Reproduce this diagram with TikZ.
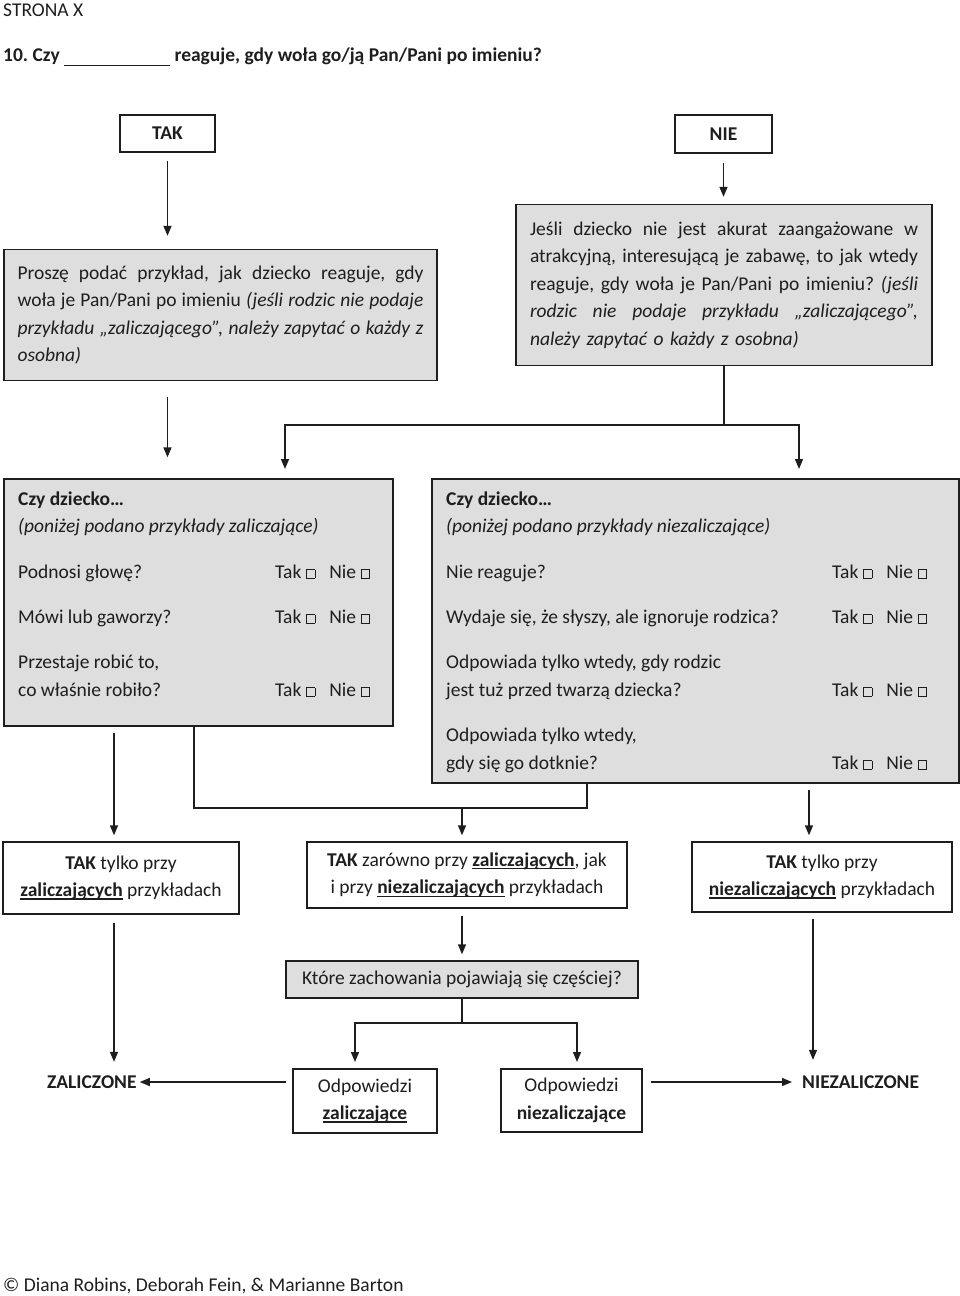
\documentclass[tikz,border=0pt]{standalone}
\usepackage{fontspec}
\setmainfont{Carlito}
\usetikzlibrary{arrows.meta}
\definecolor{boxgray}{RGB}{222,222,222}
\definecolor{ink}{RGB}{30,30,30}
\newcommand\ulx[1]{\setbox0\hbox{#1}\rlap{\rule[-3pt]{\wd0}{1.4pt}}\box0\relax}
\newcommand\chk{{\setlength\fboxsep{0pt}\setlength\fboxrule{0.8pt}\fbox{\rule{0pt}{8pt}\hspace{8pt}}}}
\newcommand\taknie{Tak \chk\hspace{14pt}Nie \chk}
\newcommand\jline[2]{\makebox[#1][s]{\spaceskip=0.16em plus 3em\relax #2}}
\begin{document}
\begin{tikzpicture}[x=1pt,y=-1pt,
  every node/.style={font=\fontsize{19.5pt}{27.5pt}\selectfont\frenchspacing, text=ink},
  wbox/.style={draw=ink, line width=1.4pt, fill=white, inner sep=0pt, align=center},
  gbox/.style={wbox, fill=boxgray},
  txt/.style={anchor=base west, inner sep=0pt},
  arr/.style={draw=ink, line width=1.4pt, -{Triangle[width=8pt,length=10pt]}},
  ln/.style={draw=ink, line width=1.4pt}
]
\useasboundingbox (0,0) rectangle (960,1296);

\node[txt] (page) at (3,16) {STRONA X};
\node[txt] (title) at (3,61) {\textbf{10. Czy \rule[-5pt]{106pt}{1.5pt} reaguje, gdy woła go/ją Pan/Pani po imieniu?}};

\node[wbox, minimum width=95pt, minimum height=37pt] (tak) at (167.5,133.5) {\textbf{TAK}};
\node[wbox, minimum width=97pt, minimum height=38pt] (nie) at (723.5,134) {\textbf{NIE}};

\node[gbox, minimum width=433pt, minimum height=131pt, text width=406pt, align=left] (lbox) at (220.5,315) {%
\jline{406pt}{Proszę podać przykład, jak dziecko reaguje, gdy}\\
\jline{406pt}{woła je Pan/Pani po imieniu \textit{(jeśli rodzic nie podaje}}\\
\jline{406pt}{\textit{przykładu „zaliczającego”, należy zapytać o każdy z}}\\
\textit{osobna)}};

\node[gbox, minimum width=416pt, minimum height=161pt, text width=388pt, align=left] (rbox) at (724,285) {%
\jline{388pt}{Jeśli dziecko nie jest akurat zaangażowane w}\\
\jline{388pt}{atrakcyjną, interesującą je zabawę, to jak wtedy}\\
\jline{388pt}{reaguje, gdy woła je Pan/Pani po imieniu? \textit{(jeśli}}\\
\jline{388pt}{\textit{rodzic nie podaje przykładu „zaliczającego”,}}\\
\textit{należy zapytać o każdy z osobna)}};

\node[gbox, minimum width=389pt, minimum height=247pt] (boxA) at (198.5,602.5) {};
\node[gbox, minimum width=527pt, minimum height=304pt] (boxB) at (695.5,631) {};

\node[txt] (a0) at (18,505) {\textbf{Czy dziecko…}};
\node[txt] (a1) at (18,532) {\textit{(poniżej podano przykłady zaliczające)}};
\node[txt] (a2) at (18,578) {Podnosi głowę?};
\node[txt] (a2t) at (275,578) {\taknie};
\node[txt] (a3) at (18,623) {Mówi lub gaworzy?};
\node[txt] (a3t) at (275,623) {\taknie};
\node[txt] (a4) at (18,668) {Przestaje robić to,};
\node[txt] (a5) at (18,696) {co właśnie robiło?};
\node[txt] (a5t) at (275,696) {\taknie};

\node[txt] (b0) at (446,505) {\textbf{Czy dziecko…}};
\node[txt] (b1) at (446,532) {\textit{(poniżej podano przykłady niezaliczające)}};
\node[txt] (b2) at (446,578) {Nie reaguje?};
\node[txt] (b2t) at (832,578) {\taknie};
\node[txt] (b3) at (446,623) {Wydaje się, że słyszy, ale ignoruje rodzica?};
\node[txt] (b3t) at (832,623) {\taknie};
\node[txt] (b4) at (446,668) {Odpowiada tylko wtedy, gdy rodzic};
\node[txt] (b5) at (446,696) {jest tuż przed twarzą dziecka?};
\node[txt] (b5t) at (832,696) {\taknie};
\node[txt] (b6) at (446,741) {Odpowiada tylko wtedy,};
\node[txt] (b7) at (446,769) {gdy się go dotknie?};
\node[txt] (b7t) at (832,769) {\taknie};

\node[wbox, minimum width=236pt, minimum height=72pt] (t1) at (121,878) {\textbf{TAK} tylko przy\\\ulx{\textbf{zaliczających}} przykładach};
\node[wbox, minimum width=320pt, minimum height=66pt] (t2) at (467,875) {\textbf{TAK} zarówno przy \ulx{\textbf{zaliczających}}, jak\\i przy \ulx{\textbf{niezaliczających}} przykładach};
\node[wbox, minimum width=260pt, minimum height=70pt] (t3) at (822,877) {\textbf{TAK} tylko przy\\\ulx{\textbf{niezaliczających}} przykładach};

\node[gbox, minimum width=352pt, minimum height=37pt] (q) at (462,979.5) {Które zachowania pojawiają się częściej?};
\node[wbox, minimum width=144pt, minimum height=64pt] (o1) at (365,1101) {Odpowiedzi\\\ulx{\textbf{zaliczające}}};
\node[wbox, minimum width=141pt, minimum height=63pt] (o2) at (571.5,1100.5) {Odpowiedzi\\\textbf{niezaliczające}};

\node[txt, anchor=west] (zal) at (47,1082) {\textbf{ZALICZONE}};
\node[txt, anchor=west] (niezal) at (802,1082) {\textbf{NIEZALICZONE}};

\node[txt] (foot) at (3,1291) {© Diana Robins, Deborah Fein, \& Marianne Barton};

% coordinates
\coordinate (j1) at (724,425);
\coordinate (aIn) at (285,479);
\coordinate (bIn) at (799,479);
\coordinate (c1) at (114,0);
\coordinate (mA) at (194,808);
\coordinate (mB) at (587,808);
\coordinate (mM) at (462,808);
\coordinate (c3) at (809,0);
\coordinate (c4) at (813,0);
\coordinate (s) at (462,1023);
\coordinate (sL) at (355,1069);
\coordinate (sR) at (577,1069);

% connectors
\draw[arr, shorten <=8pt, shorten >=13pt] (tak.south) -- (tak.south |- lbox.north);
\draw[arr, shorten <=9pt, shorten >=7pt] (nie.south) -- (nie.south |- rbox.north);
\draw[arr, shorten <=16pt, shorten >=21pt] (tak.south |- lbox.south) -- (tak.south |- boxA.north);
\draw[ln] (rbox.south) -- (j1);
\draw[arr, shorten >=10pt] (j1) -| (aIn);
\draw[arr, shorten >=10pt] (j1) -| (bIn);

\draw[arr, shorten <=6pt, shorten >=6pt] (boxA.south -| c1) -- (t1.north -| c1);
\draw[ln] (boxA.south -| mA) -- (mA) -- (mB) -- (boxB.south -| mB);
\draw[arr, shorten >=6pt] (mM) -- (t2.north -| mM);
\draw[arr, shorten <=6pt, shorten >=6pt] (boxB.south -| c3) -- (t3.north -| c3);

\draw[arr, shorten <=8pt, shorten >=13.5pt] (t1.south -| c1) -- (c1 |- zal.north);
\draw[arr, shorten <=7pt, shorten >=6pt] (t2.south -| mM) -- (q.north -| mM);
\draw[arr, shorten <=6pt, shorten >=15.5pt] (t3.south -| c4) -- (c4 |- niezal.north);

\draw[ln] (q.south) -- (s);
\draw[arr, shorten >=7pt] (s) -| (sL);
\draw[arr, shorten >=7pt] (s) -| (sR);

\draw[arr, shorten <=6pt, shorten >=3pt] (o1.west |- zal.east) -- (zal.east);
\draw[arr, shorten <=8pt, shorten >=10pt] (o2.east |- niezal.west) -- (niezal.west);
\end{tikzpicture}
\end{document}
